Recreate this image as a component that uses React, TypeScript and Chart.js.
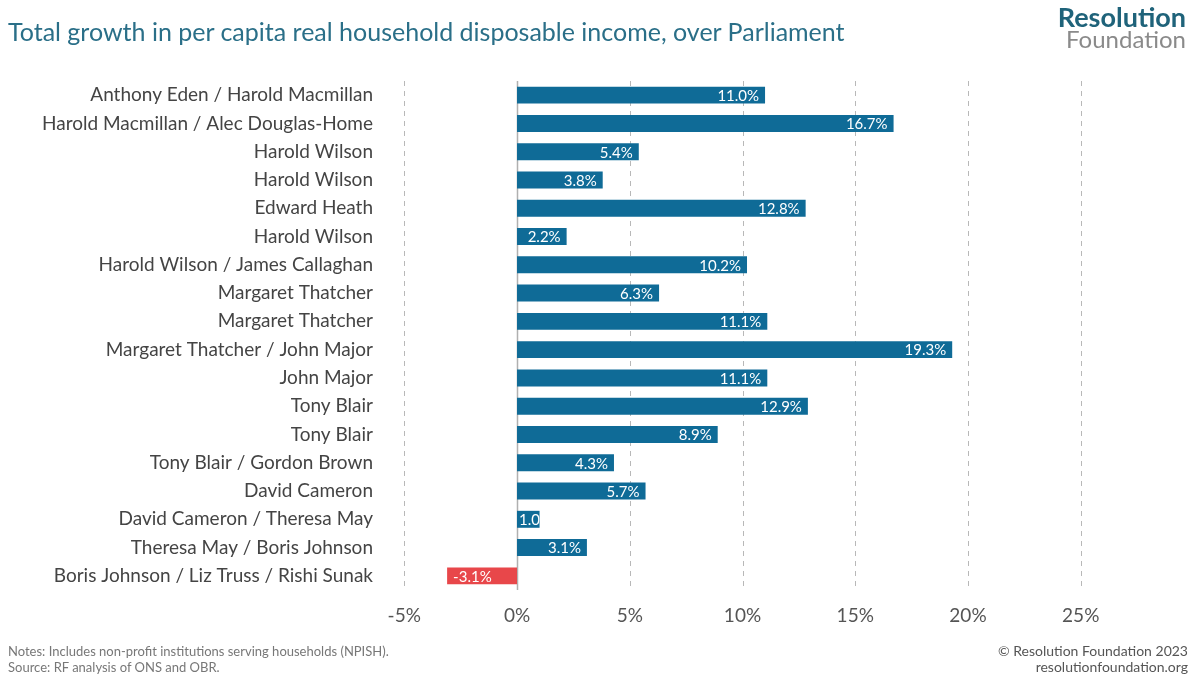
import React, { useEffect, useRef } from "react";
import { Chart, registerables } from "chart.js";
Chart.register(...registerables);

const categories = [
  "Anthony Eden / Harold Macmillan",
  "Harold Macmillan / Alec Douglas-Home",
  "Harold Wilson",
  "Harold Wilson",
  "Edward Heath",
  "Harold Wilson",
  "Harold Wilson / James Callaghan",
  "Margaret Thatcher",
  "Margaret Thatcher",
  "Margaret Thatcher / John Major",
  "John Major",
  "Tony Blair",
  "Tony Blair",
  "Tony Blair / Gordon Brown",
  "David Cameron",
  "David Cameron / Theresa May",
  "Theresa May / Boris Johnson",
  "Boris Johnson / Liz Truss / Rishi Sunak",
];
const values = [11.0, 16.7, 5.4, 3.8, 12.8, 2.2, 10.2, 6.3, 11.1, 19.3, 11.1, 12.9, 8.9, 4.3, 5.7, 1.0, 3.1, -3.1];
const xTicks = [-5, 0, 5, 10, 15, 20, 25];

const FONT = "Lato, 'Open Sans', sans-serif";

const gridPlugin = {
  id: "grid",
  beforeDatasetsDraw(chart: any) {
    const { ctx, chartArea, scales } = chart;
    ctx.save();
    xTicks.forEach((t) => {
      const x = Math.round(scales.x.getPixelForValue(t)) + 0.5;
      ctx.beginPath();
      if (t === 0) {
        ctx.setLineDash([]);
        ctx.strokeStyle = "#b0b0b0";
        ctx.lineWidth = 1.5;
      } else {
        ctx.setLineDash([5, 5]);
        ctx.strokeStyle = "#b8b8b8";
        ctx.lineWidth = 1;
      }
      ctx.moveTo(x, chartArea.top);
      ctx.lineTo(x, chartArea.bottom);
      ctx.stroke();
    });
    ctx.restore();
  },
};

const labelPlugin = {
  id: "barLabels",
  afterDatasetsDraw(chart: any) {
    const { ctx } = chart;
    const meta = chart.getDatasetMeta(0);
    ctx.save();
    ctx.font = `15px ${FONT}`;
    ctx.fillStyle = "#ffffff";
    ctx.textBaseline = "middle";
    meta.data.forEach((bar: any, i: number) => {
      const v = values[i];
      const { x, y, base, height } = bar.getProps(["x", "y", "base", "height"], true);
      const left = Math.min(x, base);
      const right = Math.max(x, base);
      ctx.save();
      ctx.beginPath();
      ctx.rect(left, y - height / 2, right - left, height);
      ctx.clip();
      const txt = v.toFixed(1) + "%";
      if (v >= 0) {
        const w = ctx.measureText(txt).width;
        const tx = Math.max(right - 6 - w, left + 2);
        ctx.textAlign = "left";
        ctx.fillText(txt, tx, y + 1);
      } else {
        ctx.textAlign = "left";
        ctx.fillText(txt, left + 6, y + 1);
      }
      ctx.restore();
    });
    ctx.restore();
  },
};

export default function App() {
  const ref = useRef<HTMLCanvasElement>(null);
  useEffect(() => {
    const chart = new Chart(ref.current!, {
      type: "bar",
      data: {
        labels: categories,
        datasets: [
          {
            data: values,
            backgroundColor: values.map((v) => (v < 0 ? "#e8474a" : "#0f6b97")),
            barPercentage: 0.6,
            categoryPercentage: 1,
          },
        ],
      },
      options: {
        indexAxis: "y",
        animation: false,
        responsive: false,
        layout: { padding: { top: 81, bottom: 54, left: 0, right: 108 } },
        plugins: { legend: { display: false }, tooltip: { enabled: false } },
        scales: {
          x: {
            min: -5.5,
            max: 25.5,
            grid: { display: false },
            border: { display: false },
            afterBuildTicks: (s: any) => {
              s.ticks = xTicks.map((v) => ({ value: v }));
            },
            afterFit: (s: any) => {
              s.height = 40;
            },
            ticks: {
              padding: 6,
              color: "#555",
              font: { family: FONT, size: 19 },
              callback: (v: any) => v + "%",
            },
          },
          y: {
            grid: { display: false },
            border: { display: false },
            afterFit: (s: any) => {
              s.width = 393;
            },
            ticks: {
              padding: 12,
              color: "#444",
              font: { family: FONT, size: 19 },
              autoSkip: false,
            },
          },
        },
      },
      plugins: [gridPlugin, labelPlugin],
    });
    return () => chart.destroy();
  }, []);
  return (
    <div style={{ position: "fixed", left: 0, top: 0, width: 1200, height: 684, background: "#fff", fontFamily: FONT }}>
      <canvas ref={ref} width={1200} height={684} style={{ position: "absolute", left: 0, top: 0 }} />
      <div style={{ position: "absolute", left: 8, top: 16, fontSize: 25, color: "#2a6f88" }}>
        Total growth in per capita real household disposable income, over Parliament
      </div>
      <div style={{ position: "absolute", right: 14, top: 6, textAlign: "right", lineHeight: "22px" }}>
        <div style={{ fontSize: 27, fontWeight: 700, color: "#1f637a" }}>Resolution</div>
        <div style={{ fontSize: 24, color: "#8a8a8a" }}>Foundation</div>
      </div>
      <div style={{ position: "absolute", left: 8, top: 643, fontSize: 13, color: "#777", lineHeight: "16px" }}>
        <div>Notes: Includes non-profit institutions serving households (NPISH).</div>
        <div>Source: RF analysis of ONS and OBR.</div>
      </div>
      <div style={{ position: "absolute", right: 12, top: 643, fontSize: 14, color: "#555", lineHeight: "16px", textAlign: "right" }}>
        <div>© Resolution Foundation 2023</div>
        <div>resolutionfoundation.org</div>
      </div>
    </div>
  );
}
